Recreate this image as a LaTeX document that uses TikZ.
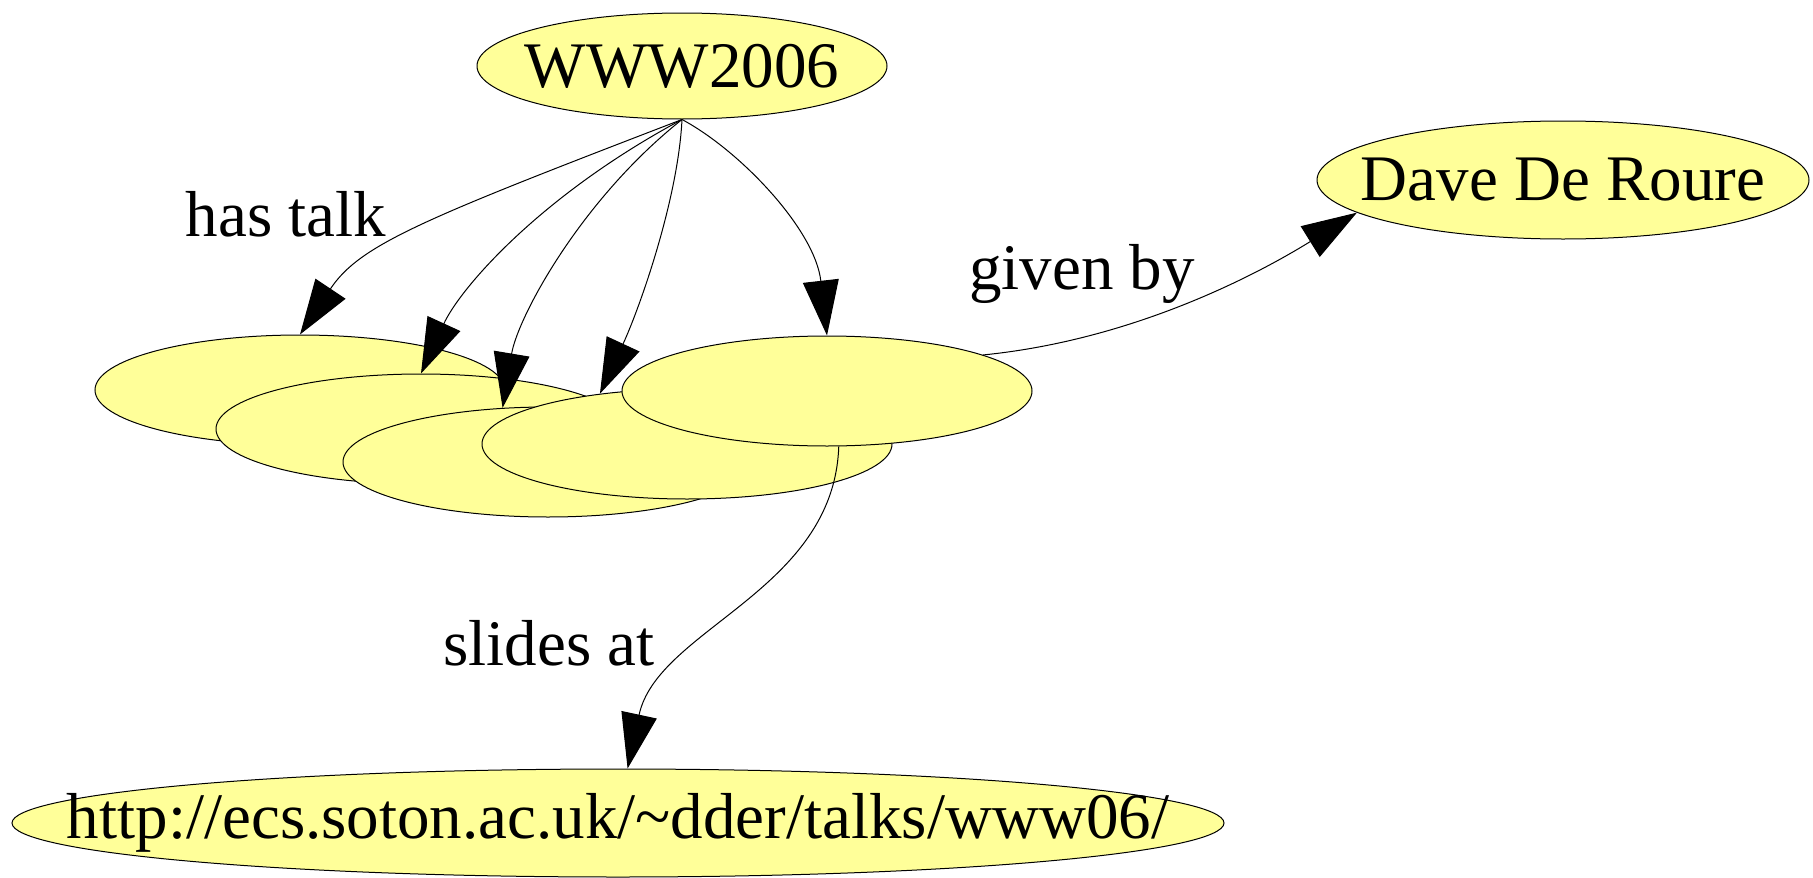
\documentclass[tikz,border=0pt]{standalone}
\usepackage{fontspec}
\setmainfont{Liberation Serif}
\usepackage{tikz}
\usetikzlibrary{positioning}
\usetikzlibrary{shapes.geometric}
\usetikzlibrary{arrows.meta}
\definecolor{blobyellow}{HTML}{FFFF99}
\tikzset{
   blob/.style={ellipse, draw=black, line width=1pt, fill=blobyellow,
      inner sep=-300pt, minimum width=410pt, minimum height=110pt},
   link/.style={line width=1pt, -{Triangle[length=55pt,width=36pt]}},
}

\begin{document}
\begin{tikzpicture}[on grid, font=\fontsize{65}{78}\selectfont]
      \useasboundingbox (0,0) rectangle (1813pt,-878pt);

      \node[blob, minimum height=106pt] at (682pt,-66pt) (w0) {WWW2006};

      % talks, back to front
      \node[blob, below left=324pt and 382pt of w0]  (t1) {};
      \node[blob, below right=39pt and 121pt of t1]  (t2) {};
      \node[blob, below right=33pt and 127pt of t2]  (t3) {};
      \node[blob, above right=18pt and 139pt of t3]  (t4) {};
      \node[blob, above right=53pt and 140pt of t4]  (t5) {};

      % speaker and slides
      \node[blob, minimum width=492pt, minimum height=118pt,
         above right=211pt and 736pt of t5]          (d0) {Dave De Roure};
      \node[blob, minimum width=1212pt, minimum height=108pt,
         below left=432pt and 209pt of t5]           (u0)
         {http://ecs.soton.ac.uk/\char`\~dder/talks/www06/};

      % edge labels
      \node[below left=148pt and 396pt of w0]        (l1) {has talk};
      \node[above right=117pt and 255pt of t5]       (l2) {given by};
      \node[above left=180pt and 69pt of u0]         (l3) {slides at};

      % has talk
      \draw[link] (w0.south) .. controls +(-260pt,-100pt) and +(60pt,90pt) .. (t1.north);
      \draw[link] (w0.south) .. controls +(-142pt,-76pt) and +(39pt,85pt) .. (t2.north);
      \draw[link] (w0.south) .. controls +(-102pt,-81pt) and +(15pt,90pt) .. (t3.130);
      \draw[link] (w0.south) .. controls +(-4pt,-81pt) and +(39pt,84pt) .. (t4.150);
      \draw[link] (w0.south) .. controls +(58pt,-31pt) and +(-12pt,106pt) .. (t5.north);

      % given by, slides at
      \draw[link] (t5.13) .. controls +(150pt,15pt) and +(-100pt,-62pt) .. (d0.189);
      \draw[link] (t5.282) .. controls +(-5pt,-145pt) and +(30pt,140pt) .. (u0.80);
\end{tikzpicture}
\end{document}
